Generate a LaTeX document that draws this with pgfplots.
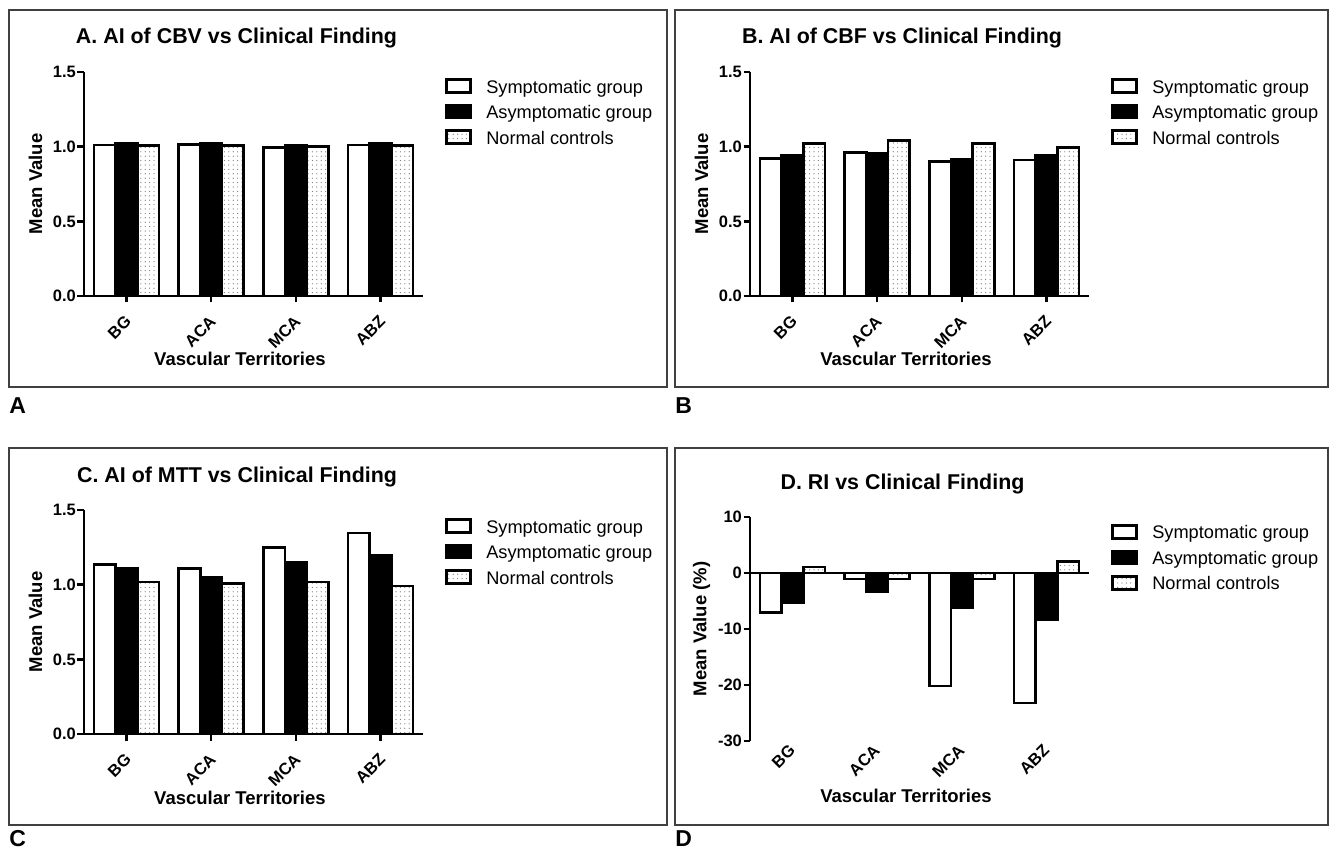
\documentclass[border=0pt]{standalone}
\usepackage{pgfplots}
\pgfplotsset{compat=1.18}
\usepackage{fontspec}
\setmainfont{Liberation Sans}
\usetikzlibrary{patterns.meta}

\pgfplotsset{
  every axis plot post/.append style={legend image code/.code={%
      \draw[##1, line width=1.3pt] (0.65pt,-3.0pt) rectangle (12.85pt,3.5pt); \path (20pt,0pt);}},
  panel/.style={
    scale only axis, width=169.5pt, height=112pt, anchor=south west,
    ybar=0pt, bar width=10.85pt,
    xmin=-0.5, xmax=3.5,
    xtick={0,1,2,3}, xticklabels={BG,ACA,MCA,ABZ},
    axis lines*=left,
    axis line style={line width=1.35pt, black},
    tick style={black, line width=1.35pt},
    major tick length=3.25pt,
    tick align=outside,
    tick label style={font=\fontsize{8.25}{9}\selectfont\bfseries},
    yticklabel style={inner sep=0.6pt},
    label style={font=\fontsize{9.25}{10}\selectfont\bfseries},
    ylabel style={at={(axis description cs:-0.143,0.5)}, anchor=center},
    ylabel={Mean Value},
    xlabel={Vascular Territories},
    legend style={draw=none, fill=none, anchor=west, inner sep=0pt, outer sep=0pt, row sep=4.25pt,
      nodes={inner sep=0pt, text height=7.5pt, text depth=1pt, font=\fontsize{9.1}{10}\selectfont, anchor=west}},
    legend cell align=left,
    clip=false,
  },
  sym/.style={fill=white, draw=black, line width=1.3pt},
  asym/.style={fill=black, draw=black, line width=1.3pt},
  norm/.style={draw=black, line width=1.3pt, pattern={Dots[distance=2.2pt, radius=0.3pt]}, pattern color=black!55},
}

\begin{document}
\begin{tikzpicture}[x=0.5pt,y=0.5pt]
\useasboundingbox (0,0) rectangle (1332,847);
\fill[white] (0,0) rectangle (1332,847);
% frames
\draw[line width=0.7pt, black!75] (9,460) rectangle (667,837);
\draw[line width=0.7pt, black!75] (675,460) rectangle (1328,837);
\draw[line width=0.7pt, black!75] (9,22) rectangle (667,399);
\draw[line width=0.7pt, black!75] (675,22) rectangle (1328,399);
% titles
\node[anchor=base, font=\fontsize{10.7}{12}\selectfont\bfseries] at (236.5,803) {A. AI of CBV vs Clinical Finding};
\node[anchor=base, font=\fontsize{10.7}{12}\selectfont\bfseries] at (902,803) {B. AI of CBF vs Clinical Finding};
\node[anchor=base, font=\fontsize{10.7}{12}\selectfont\bfseries] at (237,364.5) {C. AI of MTT vs Clinical Finding};
\node[anchor=base, font=\fontsize{10.7}{12}\selectfont\bfseries] at (902.5,357.5) {D. RI vs Clinical Finding};
% panel letters
\node[anchor=base west, inner sep=0pt, font=\fontsize{11.5}{12}\selectfont\bfseries] at (9,434) {A};
\node[anchor=base west, inner sep=0pt, font=\fontsize{11.5}{12}\selectfont\bfseries] at (675,434) {B};
\node[anchor=base west, inner sep=0pt, font=\fontsize{11.5}{12}\selectfont\bfseries] at (9,1) {C};
\node[anchor=base west, inner sep=0pt, font=\fontsize{11.5}{12}\selectfont\bfseries] at (675,1) {D};

% Panel A
\begin{axis}[panel, at={(42pt,275.5pt)},
  ymin=0, ymax=1.5, ytick={0,0.5,1,1.5}, yticklabels={0.0,0.5,1.0,1.5},
  xticklabel style={xshift=1pt, yshift=-8pt, rotate=45, anchor=east, inner sep=0pt},
  xlabel style={at={(axis description cs:0.46,-0.28)}, anchor=center},
  legend style={at={(axis description cs:1.065,0.821)}}]
\addplot[sym] coordinates {(0,1.01) (1,1.013) (2,0.993) (3,1.01)};
\addplot[asym] coordinates {(0,1.02) (1,1.02) (2,1.011) (3,1.02)};
\addplot[norm] coordinates {(0,1.009) (1,1.009) (2,1.002) (3,1.009)};
\legend{Symptomatic group, Asymptomatic group, Normal controls}
\end{axis}

% Panel B
\begin{axis}[panel, at={(375pt,275.5pt)},
  ymin=0, ymax=1.5, ytick={0,0.5,1,1.5}, yticklabels={0.0,0.5,1.0,1.5},
  xticklabel style={xshift=1pt, yshift=-8pt, rotate=45, anchor=east, inner sep=0pt},
  xlabel style={at={(axis description cs:0.46,-0.28)}, anchor=center},
  legend style={at={(axis description cs:1.065,0.821)}}]
\addplot[sym] coordinates {(0,0.92) (1,0.96) (2,0.90) (3,0.91)};
\addplot[asym] coordinates {(0,0.945) (1,0.953) (2,0.913) (3,0.945)};
\addplot[norm] coordinates {(0,1.02) (1,1.04) (2,1.02) (3,0.993)};
\legend{Symptomatic group, Asymptomatic group, Normal controls}
\end{axis}

% Panel C
\begin{axis}[panel, at={(42pt,56.5pt)},
  ymin=0, ymax=1.5, ytick={0,0.5,1,1.5}, yticklabels={0.0,0.5,1.0,1.5},
  xticklabel style={xshift=1pt, yshift=-8pt, rotate=45, anchor=east, inner sep=0pt},
  xlabel style={at={(axis description cs:0.46,-0.283)}, anchor=center},
  legend style={at={(axis description cs:1.065,0.8125)}}]
\addplot[sym] coordinates {(0,1.136) (1,1.109) (2,1.247) (3,1.347)};
\addplot[asym] coordinates {(0,1.111) (1,1.051) (2,1.149) (3,1.20)};
\addplot[norm] coordinates {(0,1.018) (1,1.007) (2,1.018) (3,0.991)};
\legend{Symptomatic group, Asymptomatic group, Normal controls}
\end{axis}

% Panel D
\begin{axis}[panel, at={(375pt,53pt)},
  ymin=-30, ymax=10, ytick={-30,-20,-10,0,10}, yticklabels={-30,-20,-10,0,10},
  ylabel={Mean Value (\%)},
  x axis line style={draw=none}, xtick style={draw=none},
  extra y ticks={0}, extra y tick labels={},
  extra y tick style={grid=major, major grid style={line width=1.35pt, black}},
  xticklabel style={xshift=0pt, yshift=0pt, rotate=45, anchor=east, inner sep=0pt},
  xlabel style={at={(axis description cs:0.46,-0.243)}, anchor=center},
  legend style={at={(axis description cs:1.065,0.817)}}]
\addplot[sym] coordinates {(0,-7.1) (1,-1.1) (2,-20.2) (3,-23.2)};
\addplot[asym] coordinates {(0,-5.3) (1,-3.3) (2,-6.25) (3,-8.3)};
\addplot[norm] coordinates {(0,1.07) (1,-1.1) (2,-1.1) (3,2.1)};
\legend{Symptomatic group, Asymptomatic group, Normal controls}
\end{axis}
\end{tikzpicture}
\end{document}
